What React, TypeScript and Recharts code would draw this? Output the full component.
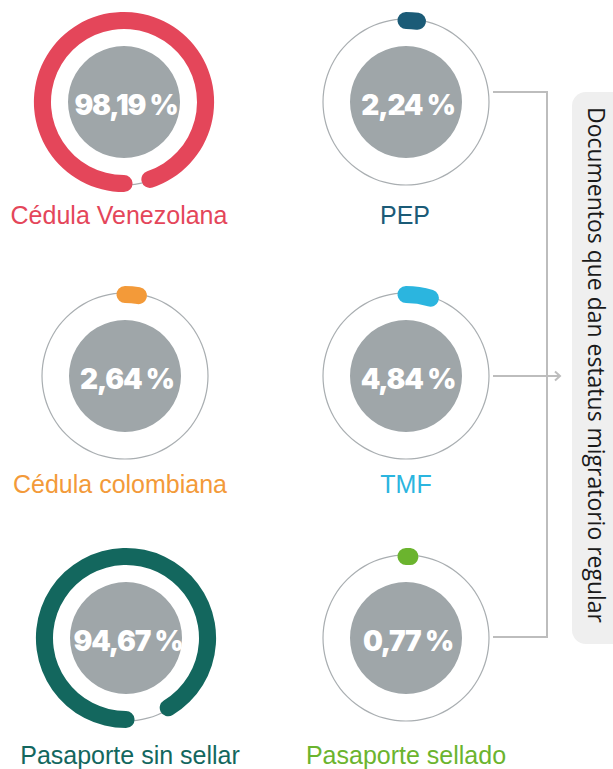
import React from "react";
import { PieChart, Pie, RadialBarChart, RadialBar, PolarAngleAxis } from "recharts";

// ---- data ----
const categories = [
  "Cédula Venezolana",
  "PEP",
  "Cédula colombiana",
  "TMF",
  "Pasaporte sin sellar",
  "Pasaporte sellado",
];
const shares = [98.19, 2.24, 2.64, 4.84, 94.67, 0.77];
const shareDomain = [0, 100];
const sideTitle = "Documentos que dan estatus migratorio regular";

// ---- styles / layout (kept apart from the data) ----
const palette = ["#E4465A", "#1B5B77", "#F39A39", "#2BB5DF", "#13675E", "#6BB42E"];
const layout = [
  { cx: 124, cy: 102, lx: 119, ly: 224, start: 276, ext: false },
  { cx: 406, cy: 102, lx: 405, ly: 224, start: 90, ext: true },
  { cx: 125, cy: 376, lx: 120, ly: 493, start: 90, ext: true },
  { cx: 406, cy: 376, lx: 406, ly: 493, start: 90, ext: true },
  { cx: 126, cy: 638, lx: 130, ly: 764, start: 276, ext: false },
  { cx: 406, cy: 638, lx: 406, ly: 764, start: 90, ext: true },
];

const fmt = (v: number) => v.toFixed(2).replace(".", ",") + " %";

const S = 200;
const H = S / 2;
const zeroMargin = { top: 0, right: 0, bottom: 0, left: 0 };

function Gauge({ i }: { i: number }) {
  const L = layout[i];
  const row = [{ name: categories[i], value: shares[i] }];
  return (
    <div style={{ position: "absolute", left: L.cx - H, top: L.cy - H, width: S, height: S }}>
      <div style={{ position: "absolute", left: 0, top: 0 }}>
        <PieChart width={S} height={S} margin={zeroMargin}>
          <Pie
            data={[{ v: 1 }]}
            dataKey="v"
            cx={H}
            cy={H}
            innerRadius={82.4}
            outerRadius={83.6}
            fill="#A9AEB1"
            stroke="none"
            isAnimationActive={false}
          />
          <Pie
            data={[{ v: 1 }]}
            dataKey="v"
            cx={H}
            cy={H}
            innerRadius={0}
            outerRadius={56}
            fill="#9FA6A9"
            stroke="none"
            isAnimationActive={false}
          />
        </PieChart>
      </div>
      <div style={{ position: "absolute", left: 0, top: 0 }}>
        <RadialBarChart
          width={S}
          height={S}
          cx={H}
          cy={H}
          innerRadius={72}
          outerRadius={91}
          startAngle={L.start}
          endAngle={L.start - 360}
          data={row}
          barSize={19}
          margin={zeroMargin}
        >
          <PolarAngleAxis type="number" domain={shareDomain} tick={false} tickLine={false} axisLine={false} />
          <RadialBar
            dataKey="value"
            fill={palette[i]}
            cornerRadius={9.5}
            cornerIsExternal={L.ext}
            isAnimationActive={false}
          />
        </RadialBarChart>
      </div>
    </div>
  );
}

export default function App() {
  return (
    <div
      style={{
        position: "absolute",
        left: 0,
        top: 0,
        width: 613,
        height: 769,
        overflow: "hidden",
        background: "#fff",
        fontFamily: "'Liberation Sans', Arial, sans-serif",
      }}
    >
      {categories.map((_, i) => (
        <Gauge key={i} i={i} />
      ))}
      <svg
        width={613}
        height={769}
        style={{ position: "absolute", left: 0, top: 0, pointerEvents: "none" }}
      >
        {categories.map((c, i) => {
          const L = layout[i];
          return (
            <g key={c}>
              <text
                x={L.cx + 2}
                y={L.cy + 13}
                textAnchor="middle"
                fill="#fff"
                fontFamily="Inter, 'Noto Sans', sans-serif"
                fontWeight={900}
                fontSize={28}
                letterSpacing={-1.2}
              >
                {fmt(shares[i])}
              </text>
              <text
                x={L.lx}
                y={L.ly}
                textAnchor="middle"
                fill={palette[i]}
                fontFamily="'Liberation Sans', Arial, sans-serif"
                fontSize={25}
              >
                {c}
              </text>
            </g>
          );
        })}
        {/* bracket */}
        <path d="M493,92 H547 V637 H493" fill="none" stroke="#BDBDBD" strokeWidth={2} />
        <path d="M493,376 H560" fill="none" stroke="#BDBDBD" strokeWidth={2} />
        <path d="M555,371.5 L560,376 L555,380.5" fill="none" stroke="#BDBDBD" strokeWidth={2} />
        <rect x={572} y={92} width={60} height={552} rx={14} fill="#EFEFEF" />
        <text
          transform="translate(588,107) rotate(90)"
          x={0}
          y={0}
          fill="#1a1a1a"
          fontFamily="'Open Sans', sans-serif"
          fontSize={23}
          textLength={516}
          lengthAdjust="spacingAndGlyphs"
        >
          {sideTitle}
        </text>
      </svg>
    </div>
  );
}
